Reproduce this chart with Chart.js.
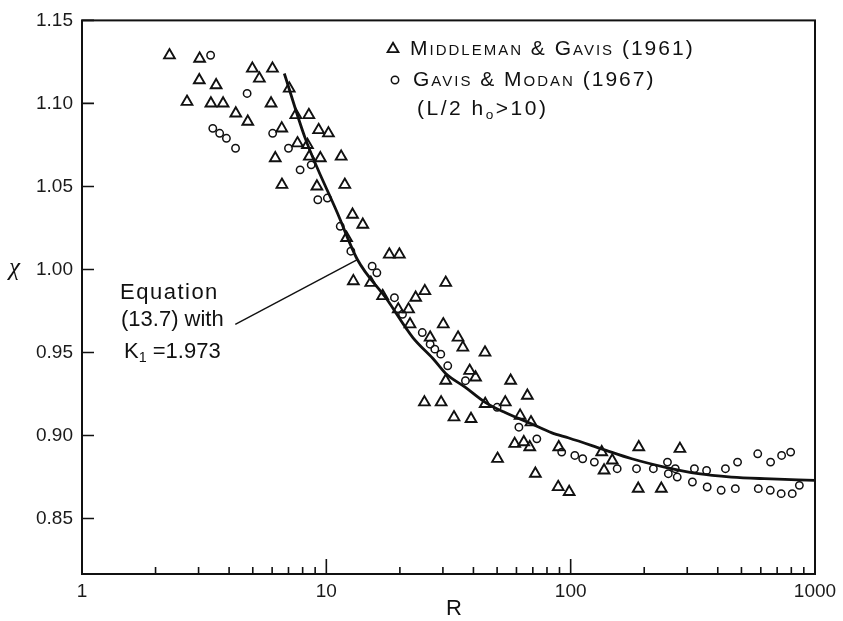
<!DOCTYPE html>
<html>
<head>
<meta charset="utf-8">
<script src="https://cdn.jsdelivr.net/npm/chart.js@4.4.1/dist/chart.umd.min.js"></script>
<style>
body { margin: 0; background: #fff; }
#wrap { position: relative; width: 843px; height: 621px; }
.txt { position: absolute; font-family: "Liberation Sans", Arial, sans-serif; color: #111; white-space: nowrap; line-height: 1; }
.sc { font-variant: small-caps; letter-spacing: 2px; }
sub { font-size: 65%; vertical-align: -4px; }
</style>
</head>
<body>
<div id="wrap">
  <canvas id="myChart"></canvas>
  <div class="txt sc" style="left:410px; top:37px; font-size:21px;">Middleman &amp; Gavis (1961)</div>
  <div class="txt sc" style="left:413px; top:68px; font-size:21px;">Gavis &amp; Modan (1967)</div>
  <div class="txt" style="left:417px; top:97px; font-size:21px; letter-spacing:2.5px;">(L/2 h<sub>o</sub>&gt;10)</div>
  <div class="txt" style="left:120px; top:281px; font-size:22px; letter-spacing:1.5px;">Equation</div>
  <div class="txt" style="left:121px; top:308px; font-size:22px;">(13.7) with</div>
  <div class="txt" style="left:124px; top:340px; font-size:22px;">K<sub>1</sub> =1.973</div>
  <div class="txt" style="left:9px; top:254px; font-size:25px; font-family:'Liberation Serif', serif; font-style:italic;">χ</div>
  <div class="txt" style="left:446px; top:597px; font-size:22px;">R</div>
</div>
<script>
// data: R (log axis) and chi

// Middleman & Gavis (1961) - triangles
var mgR = [2.28, 3.03, 3.02, 3.54, 2.69, 3.37, 3.78, 4.26, 4.77, 4.98,
    5.32, 6.02, 7.05, 5.94, 7.50, 8.48, 6.57, 9.30, 10.2, 7.62,
    8.37, 6.18, 8.52, 9.45, 11.5, 6.58, 9.15, 11.9, 12.8, 14.1,
    12.1, 18.1, 19.9, 12.9, 15.2, 17.0, 21.7, 23.2, 25.3, 30.8,
    19.7, 22.0, 30.1, 26.6, 34.6, 36.2, 44.6, 38.6, 40.8, 30.8,
    56.8, 66.5, 25.2, 29.5, 44.7, 54.0, 33.3, 39.1, 62.1, 68.8,
    59.0, 64.3, 68.0, 89.4, 134, 50.2, 71.7, 88.9, 98.6, 137,
    148, 190, 189, 235, 280];
var mgChi = [1.129, 1.127, 1.114, 1.111, 1.101, 1.100, 1.100, 1.094, 1.089, 1.121,
    1.115, 1.121, 1.109, 1.100, 1.093, 1.093, 1.085, 1.084, 1.082, 1.076,
    1.075, 1.067, 1.068, 1.067, 1.068, 1.051, 1.050, 1.051, 1.033, 1.027,
    1.019, 1.009, 1.009, 0.993, 0.992, 0.984, 0.976, 0.983, 0.987, 0.992,
    0.976, 0.967, 0.967, 0.959, 0.959, 0.953, 0.950, 0.939, 0.935, 0.933,
    0.933, 0.924, 0.920, 0.920, 0.919, 0.920, 0.911, 0.910, 0.912, 0.908,
    0.895, 0.896, 0.893, 0.893, 0.890, 0.886, 0.877, 0.869, 0.866, 0.879,
    0.885, 0.893, 0.868, 0.868, 0.892];

// Gavis & Modan (1967) - circles
var gmR = [3.36, 4.74, 3.43, 3.66, 3.90, 4.25, 6.03, 7.00, 7.81, 8.67,
    9.23, 10.1, 11.4, 12.6, 15.4, 16.1, 19.0, 20.5, 24.7, 26.6,
    27.8, 29.4, 31.4, 37.1, 50.0, 61.4, 72.7, 91.9, 104, 112,
    125, 155, 186, 218, 249, 251, 268, 273, 321, 315,
    360, 362, 413, 430, 482, 472, 583, 586, 658, 656,
    730, 727, 795, 807, 863];
var gmChi = [1.129, 1.106, 1.085, 1.082, 1.079, 1.073, 1.082, 1.073, 1.060, 1.063,
    1.042, 1.043, 1.026, 1.011, 1.002, 0.998, 0.983, 0.973, 0.962, 0.955,
    0.952, 0.949, 0.942, 0.933, 0.917, 0.905, 0.898, 0.890, 0.888, 0.886,
    0.884, 0.880, 0.880, 0.880, 0.884, 0.877, 0.880, 0.875, 0.880, 0.872,
    0.879, 0.869, 0.867, 0.880, 0.884, 0.868, 0.889, 0.868, 0.884, 0.867,
    0.888, 0.865, 0.890, 0.865, 0.870];

// equation (13.7) with K1 = 1.973
var fitR = [6.73, 8.22, 11.1, 13.4, 17.6, 22.6, 27.3, 30.8, 37.1, 44.7,
    53.9, 67.5, 83.8, 98.3, 134, 178, 242, 333, 455, 620, 1000];
var fitChi = [1.118, 1.0785, 1.034, 1.006, 0.9825, 0.959, 0.9464, 0.9374, 0.929, 0.920,
    0.9138, 0.9077, 0.9016, 0.8985, 0.892, 0.886, 0.881, 0.877, 0.875, 0.874, 0.873];

// pointer from the label to the curve
var leaderR = [4.24, 13.4];
var leaderChi = [0.967, 1.006];

var yTicks = [0.85, 0.90, 0.95, 1.00, 1.05, 1.10, 1.15];
var xTicks = [1, 2, 3, 4, 5, 6, 7, 8, 9,
    10, 20, 30, 40, 50, 60, 70, 80, 90,
    100, 200, 300, 400, 500, 600, 700, 800, 900, 1000];
var xTickLabels = [1, 10, 100, 1000];

function pts(xs, ys) {
    return xs.map(function (v, i) { return {x: v, y: ys[i]}; });
}

var ink = '#111';

// frame, inward ticks and the legend symbols
var frame = {
    id: 'frame',
    afterDraw: function (chart) {
        var ctx = chart.ctx, a = chart.chartArea;
        var x = chart.scales.x, y = chart.scales.y;
        ctx.save();
        ctx.strokeStyle = ink;
        ctx.lineWidth = 2;
        ctx.strokeRect(a.left, a.top, a.right - a.left, a.bottom - a.top);

        ctx.lineWidth = 1.6;
        ctx.beginPath();
        yTicks.forEach(function (v) {
            var py = y.getPixelForValue(v);
            ctx.moveTo(a.left, py);
            ctx.lineTo(a.left + 12, py);
        });
        xTicks.forEach(function (v) {
            var px = x.getPixelForValue(v);
            var len = xTickLabels.indexOf(v) >= 0 ? 15 : 7;
            ctx.moveTo(px, a.bottom);
            ctx.lineTo(px, a.bottom - len);
        });
        ctx.stroke();

        // legend: triangle + circle
        ctx.lineWidth = 1.9;
        var cx = 393, cy = 49, r = 6.2;
        ctx.beginPath();
        ctx.moveTo(cx, cy - r);
        ctx.lineTo(cx + r * 0.866, cy + r / 2);
        ctx.lineTo(cx - r * 0.866, cy + r / 2);
        ctx.closePath();
        ctx.stroke();
        ctx.lineWidth = 1.5;
        ctx.beginPath();
        ctx.arc(395, 80, 3.7, 0, Math.PI * 2);
        ctx.stroke();
        ctx.restore();
    }
};

var ctx = document.getElementById('myChart').getContext('2d');

new Chart(ctx, {
    type: 'scatter',
    data: {
        datasets: [{
            label: 'Middleman & Gavis (1961)',
            data: pts(mgR, mgChi),
            pointStyle: 'triangle',
            pointRadius: 6.2,
            pointBorderWidth: 1.9,
            pointBorderColor: ink,
            pointBackgroundColor: 'rgba(0,0,0,0)'
        }, {
            label: 'Gavis & Modan (1967)',
            data: pts(gmR, gmChi),
            pointStyle: 'circle',
            pointRadius: 3.7,
            pointBorderWidth: 1.5,
            pointBorderColor: ink,
            pointBackgroundColor: 'rgba(0,0,0,0)'
        }, {
            label: 'Equation (13.7)',
            data: pts(fitR, fitChi),
            showLine: true,
            pointRadius: 0,
            borderColor: ink,
            borderWidth: 2.8,
            cubicInterpolationMode: 'monotone'
        }, {
            label: 'leader',
            data: pts(leaderR, leaderChi),
            showLine: true,
            pointRadius: 0,
            borderColor: ink,
            borderWidth: 1.4
        }]
    },
    options: {
        responsive: true,
        maintainAspectRatio: false,
        animation: false,
        layout: {
            padding: {top: 15, right: 28, left: 0, bottom: 0}
        },
        plugins: {
            legend: {display: false},
            tooltip: {enabled: false}
        },
        scales: {
            x: {
                type: 'logarithmic',
                min: 1,
                max: 1000,
                grid: {display: false, drawTicks: false},
                border: {display: false},
                afterBuildTicks: function (scale) {
                    scale.ticks = xTicks.map(function (v) { return {value: v}; });
                },
                afterFit: function (scale) { scale.height = 47; },
                ticks: {
                    autoSkip: false,
                    maxRotation: 0,
                    padding: 6,
                    color: '#1a1a1a',
                    font: {family: 'Liberation Sans', size: 19},
                    callback: function (v) {
                        return xTickLabels.indexOf(v) >= 0 ? String(v) : '';
                    }
                }
            },
            y: {
                min: 0.8166,
                max: 1.15,
                grid: {display: false, drawTicks: false},
                border: {display: false},
                afterBuildTicks: function (scale) {
                    scale.ticks = yTicks.map(function (v) { return {value: v}; });
                },
                afterFit: function (scale) { scale.width = 82; },
                ticks: {
                    padding: 9,
                    color: '#1a1a1a',
                    font: {family: 'Liberation Sans', size: 19},
                    callback: function (v) { return v.toFixed(2); }
                }
            }
        }
    },
    plugins: [frame]
});
</script>
</body>
</html>
